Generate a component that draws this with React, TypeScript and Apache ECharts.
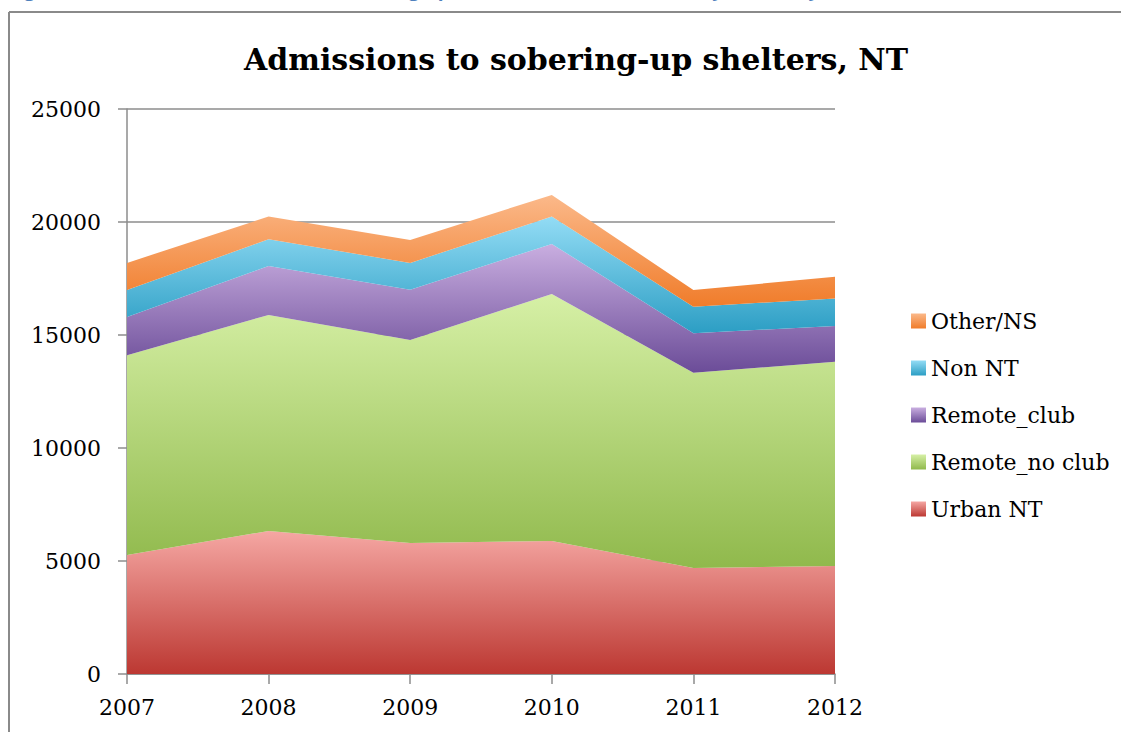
import React, { useEffect, useRef } from "react";
import * as echarts from "echarts";

const years = ["2007", "2008", "2009", "2010", "2011", "2012"];
const urbanNT = [5270, 6330, 5800, 5890, 4690, 4780];
const remoteNoClub = [8830, 9560, 8980, 10925, 8640, 9040];
const remoteClub = [1700, 2160, 2220, 2215, 1750, 1580];
const nonNT = [1190, 1185, 1190, 1210, 1170, 1220];
const otherNS = [1200, 1005, 1015, 960, 740, 960];
const legendOrder = ["Other/NS", "Non NT", "Remote_club", "Remote_no club", "Urban NT"];

const grad = (top: string, bottom: string) =>
  new echarts.graphic.LinearGradient(0, 0, 0, 1, [
    { offset: 0, color: top },
    { offset: 1, color: bottom },
  ]);

const serif = "DejaVu Serif";

export default function App() {
  const ref = useRef<HTMLDivElement>(null);
  useEffect(() => {
    if (!ref.current) return;
    const chart = echarts.init(ref.current, null, { renderer: "svg" });
    const mk = (name: string, data: number[], top: string, bottom: string) => ({
      name,
      type: "line",
      stack: "total",
      data,
      symbol: "none",
      lineStyle: { width: 0 },
      itemStyle: { color: grad(top, bottom) },
      areaStyle: { color: grad(top, bottom), opacity: 1 },
    });
    chart.setOption({
      animation: false,
      backgroundColor: "#ffffff",
      title: {
        text: "Admissions to sobering-up shelters, NT",
        left: 571,
        top: 39,
        textAlign: "center",
        textStyle: { fontFamily: serif, fontWeight: "bold", fontSize: 30, color: "#000" },
      },
      graphic: [
        {
          type: "text",
          left: 8,
          top: -21,
          style: {
            text: "Figure 9: Number of admissions to sobering-up shelters, NT, 2007 to 2012 by residency",
            fill: "#4f81bd",
            font: "bold 19px 'Open Sans'",
          },
        },
        { type: "line", shape: { x1: 9, y1: 12, x2: 1121, y2: 12 }, style: { stroke: "#8a8a8a", lineWidth: 2 } },
        { type: "line", shape: { x1: 9, y1: 12, x2: 9, y2: 732 }, style: { stroke: "#8a8a8a", lineWidth: 2 } },
      ],
      legend: {
        orient: "vertical",
        left: 906,
        top: 305,
        icon: "rect",
        itemWidth: 15,
        itemHeight: 15,
        itemGap: 25,
        data: legendOrder,
        textStyle: { fontFamily: serif, fontSize: 22, color: "#000", lineHeight: 22, padding: [0, 0, 0, 0] },
      },
      grid: { left: 127, right: 286, top: 109, bottom: 58, containLabel: false },
      xAxis: {
        type: "category",
        data: years,
        boundaryGap: false,
        axisLine: { lineStyle: { color: "#8c8c8c", width: 1.5 } },
        axisTick: { show: true, length: 10, lineStyle: { color: "#8c8c8c", width: 1.5 } },
        axisLabel: { fontFamily: serif, fontSize: 22, color: "#000", margin: 22 },
      },
      yAxis: {
        type: "value",
        min: 0,
        max: 25000,
        interval: 5000,
        axisLine: { show: true, lineStyle: { color: "#8c8c8c", width: 1.5 } },
        axisTick: { show: true, length: 9, lineStyle: { color: "#8c8c8c", width: 1.5 } },
        axisLabel: {
          fontFamily: serif,
          fontSize: 22,
          color: "#000",
          margin: 26,
          formatter: (v: number) => String(v),
        },
        splitLine: { lineStyle: { color: "#8c8c8c", width: 1.5 } },
      },
      series: [
        mk("Urban NT", urbanNT, "#f5a7a3", "#bc3832"),
        mk("Remote_no club", remoteNoClub, "#d6f0a6", "#90b94c"),
        mk("Remote_club", remoteClub, "#c9aee0", "#6b4c98"),
        mk("Non NT", nonNT, "#93dcf5", "#2c9ec4"),
        mk("Other/NS", otherNS, "#fbb98a", "#f07c2a"),
      ],
    });
    return () => chart.dispose();
  }, []);
  return (
    <div
      ref={ref}
      style={{ position: "fixed", left: 0, top: 0, width: 1121, height: 732, background: "#fff" }}
    />
  );
}
